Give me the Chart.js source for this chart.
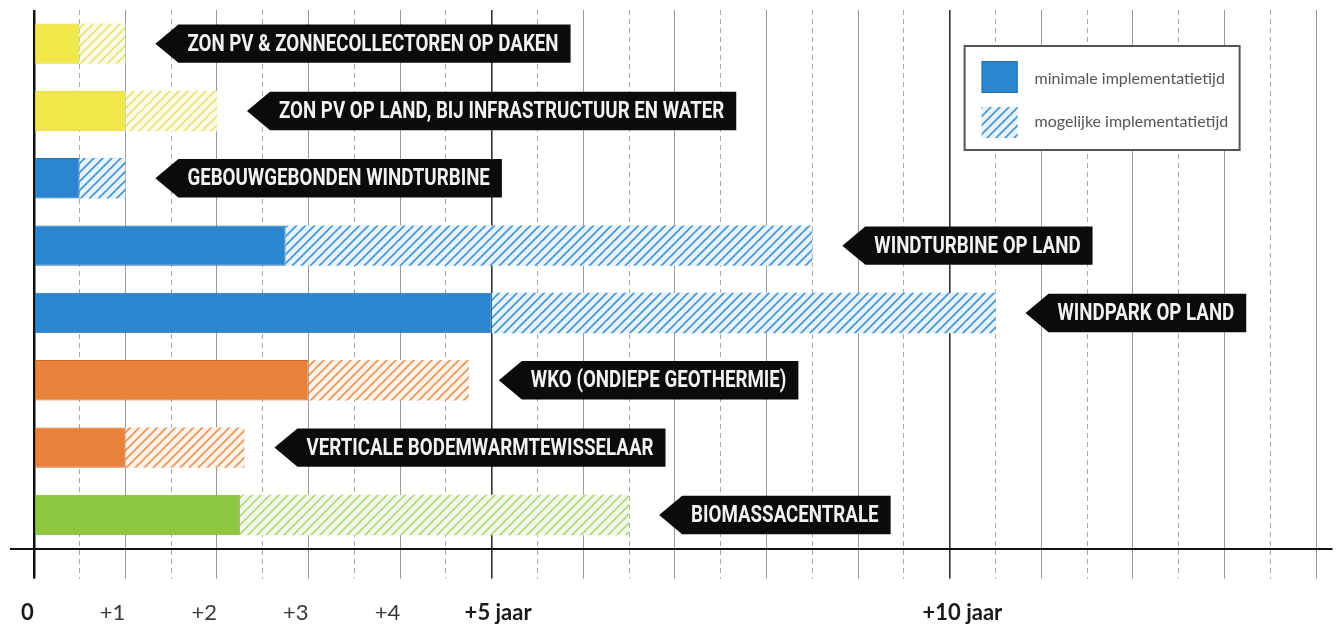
<!DOCTYPE html>
<html lang="nl">
<head>
<meta charset="utf-8">
<title>Implementatietijd duurzame energie</title>
<script src="https://cdn.jsdelivr.net/npm/chart.js@4.4.1/dist/chart.umd.min.js"></script>
<style>
  html, body { margin: 0; padding: 0; background: #fff; }
  #wrap { width: 1337px; height: 631px; }
</style>
</head>
<body>
<div id="wrap"><canvas id="implChart"></canvas></div>
<script>
// data (years)
const categories = [
  'ZON PV & ZONNECOLLECTOREN OP DAKEN',
  'ZON PV OP LAND, BIJ INFRASTRUCTUUR EN WATER',
  'GEBOUWGEBONDEN WINDTURBINE',
  'WINDTURBINE OP LAND',
  'WINDPARK OP LAND',
  'WKO (ONDIEPE GEOTHERMIE)',
  'VERTICALE BODEMWARMTEWISSELAAR',
  'BIOMASSACENTRALE'
];
const minYears = [0.5, 1, 0.5, 2.75, 5, 3, 1, 2.25];
const maxYears = [1, 2, 1, 8.5, 10.5, 4.75, 2.3, 6.5];
const groups = ['zon', 'zon', 'wind', 'wind', 'wind', 'wko', 'wko', 'bio'];
const seriesLabels = ['minimale implementatietijd', 'mogelijke implementatietijd'];
const tickValues = [0, 1, 2, 3, 4, 5, 10];
const tickLabels = ['0', '+1', '+2', '+3', '+4', '+5 jaar', '+10 jaar'];

const palette = {
  zon:  { solid: '#f1e84c', edge: '#ddd23a', line: '#e6e27e', bg: '#fcfbe3' },
  wind: { solid: '#2b86cf', edge: '#2170b0', line: '#4894cf', bg: '#e6f3fc' },
  wko:  { solid: '#e8823a', edge: '#cc6c2a', line: '#e8955f', bg: '#fdf2e8' },
  bio:  { solid: '#8dc63f', edge: '#78ae2f', line: '#b3d67b', bg: '#f3f9ea' }
};

// diagonal hatch for the "mogelijke" part
function hatch(line, bg) {
  const s = 9;
  const c = document.createElement('canvas');
  c.width = s; c.height = s;
  const g = c.getContext('2d');
  g.fillStyle = bg;
  g.fillRect(0, 0, s, s);
  g.strokeStyle = line;
  g.lineWidth = 1.6;
  g.beginPath();
  g.moveTo(-1, s + 1); g.lineTo(s + 1, -1);
  g.moveTo(-1, 1); g.lineTo(1, -1);
  g.moveTo(s - 1, s + 1); g.lineTo(s + 1, s - 1);
  g.stroke();
  return g.createPattern(c, 'repeat');
}

const solids = groups.map(k => palette[k].solid);
const edges = groups.map(k => palette[k].edge);
const hatches = groups.map(k => hatch(palette[k].line, palette[k].bg));

function isHalf(v) { return Math.abs(v % 1) > 0.01; }
function gridColor(v) {
  if (v === 0) return '#111';
  if (v === 5 || v === 10) return '#333';
  return isHalf(v) ? '#a8a8a8' : '#9a9a9a';
}
function gridWidth(v) {
  if (v === 0) return 2.5;
  if (v === 5 || v === 10) return 1.6;
  return 1;
}

// black arrow tags right of each bar
const tagPlugin = {
  id: 'tags',
  afterDatasetsDraw(chart) {
    const ctx = chart.ctx;
    const xs = chart.scales.x;
    const meta = chart.getDatasetMeta(1);
    const squeeze = 0.78;
    ctx.save();
    ctx.font = 'bold 24px Roboto, "Noto Sans", sans-serif';
    categories.forEach((name, i) => {
      const bar = meta.data[i];
      const h = bar.height - 2;
      const cy = bar.y;
      const tip = xs.getPixelForValue(maxYears[i]) + 30;
      const depth = 23;
      const tw = ctx.measureText(name).width * squeeze;
      const right = tip + depth + 9 + tw + 12;
      ctx.fillStyle = '#0b0b0b';
      ctx.beginPath();
      ctx.moveTo(tip, cy);
      ctx.lineTo(tip + depth, cy - h / 2);
      ctx.lineTo(right, cy - h / 2);
      ctx.lineTo(right, cy + h / 2);
      ctx.lineTo(tip + depth, cy + h / 2);
      ctx.closePath();
      ctx.fill();
      ctx.save();
      ctx.translate(tip + depth + 9, cy + 1);
      ctx.scale(squeeze, 1);
      ctx.fillStyle = '#f2f2f2';
      ctx.textBaseline = 'middle';
      ctx.fillText(name, 0, 0);
      ctx.restore();
    });
    ctx.restore();
  }
};

// boxed legend inside the plot, top right
const boxLegend = {
  id: 'boxLegend',
  afterDatasetsDraw(chart) {
    const { ctx, chartArea } = chart;
    const w = 275, h = 104;
    const left = chartArea.right - 92 - w;
    const top = chartArea.top + 36;
    ctx.save();
    ctx.fillStyle = '#fff';
    ctx.fillRect(left, top, w, h);
    ctx.strokeStyle = '#555';
    ctx.lineWidth = 2;
    ctx.strokeRect(left, top, w, h);

    const ds = chart.data.datasets;
    // solid swatch
    ctx.fillStyle = palette.wind.solid;
    ctx.fillRect(left + 17, top + 15, 36, 32);
    ctx.strokeStyle = palette.wind.edge;
    ctx.lineWidth = 1;
    ctx.strokeRect(left + 17.5, top + 15.5, 35, 31);
    // hatched swatch
    ctx.fillStyle = hatches[2];
    ctx.fillRect(left + 17, top + 61, 36, 31);

    ctx.fillStyle = '#555';
    ctx.font = '16px Lato, "Noto Sans", sans-serif';
    ctx.textBaseline = 'middle';
    ctx.fillText(ds[0].label, left + 70, top + 33);
    ctx.fillText(ds[1].label, left + 70, top + 76);
    ctx.restore();
  }
};

new Chart(document.getElementById('implChart'), {
  type: 'bar',
  data: {
    labels: categories,
    datasets: [
      {
        label: seriesLabels[0],
        data: minYears.map(v => [0, v]),
        backgroundColor: solids,
        borderColor: edges,
        borderWidth: 1,
        borderSkipped: false,
        grouped: false,
        barPercentage: 0.6,
        categoryPercentage: 1
      },
      {
        label: seriesLabels[1],
        data: minYears.map((v, i) => [v, maxYears[i]]),
        backgroundColor: hatches,
        borderWidth: 0,
        grouped: false,
        barPercentage: 0.6,
        categoryPercentage: 1
      }
    ]
  },
  options: {
    indexAxis: 'y',
    responsive: true,
    maintainAspectRatio: false,
    animation: false,
    layout: { padding: { left: 7, top: 10, right: 0, bottom: -16 } },
    plugins: {
      legend: { display: false },
      tooltip: { enabled: false }
    },
    scales: {
      y: { display: false },
      x: {
        type: 'linear',
        min: -0.25,
        max: 14.17,
        afterBuildTicks(scale) {
          const t = [];
          for (let v = 0; v <= 14; v += 0.5) t.push({ value: v });
          scale.ticks = t;
        },
        grid: {
          color: c => gridColor(c.tick.value),
          lineWidth: c => gridWidth(c.tick.value),
          tickColor: c => gridColor(c.tick.value),
          tickWidth: c => gridWidth(c.tick.value),
          tickBorderDash: c => isHalf(c.tick.value) ? [5, 4] : [],
          tickLength: 30
        },
        border: {
          display: true,
          color: '#111',
          width: 2,
          dash: c => (c.type === 'tick' && c.tick && isHalf(c.tick.value)) ? [5, 4] : []
        },
        ticks: {
          autoSkip: false,
          maxRotation: 0,
          padding: 21,
          callback(value) {
            const k = tickValues.indexOf(value);
            if (k < 0) return '';
            const sp = '\u2007';
            if (value === 0) return tickLabels[k] + sp;
            if (value < 5) return tickLabels[k] + sp + sp;
            return (value === 10 ? sp + sp : sp) + tickLabels[k];
          },
          font: c => ({
            family: 'Lato, "Noto Sans", sans-serif',
            size: 22,
            weight: [0, 5, 10].includes(c.tick && c.tick.value) ? 'bold' : 'normal'
          }),
          color: c => [0, 5, 10].includes(c.tick && c.tick.value) ? '#1a1a1a' : '#3a3a3a'
        }
      }
    }
  },
  plugins: [boxLegend, tagPlugin]
});
</script>
</body>
</html>
